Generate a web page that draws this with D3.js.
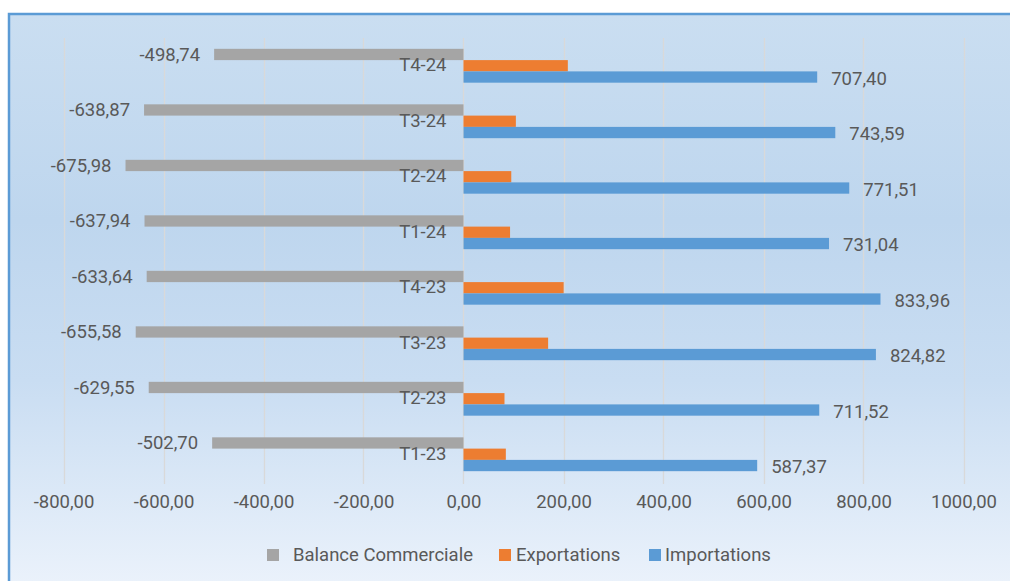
<!DOCTYPE html>
<html>
<head>
<meta charset="utf-8">
<script src="https://cdn.jsdelivr.net/npm/d3@7"></script>
<style>
  body { margin: 0; background: #fff; }
  text { font-family: Roboto, "Liberation Sans", sans-serif; fill: #595959; }
</style>
</head>
<body>
<div id="chart"></div>
<script>
// quarters, bottom to top as in the original
var quarters = ["T1-23", "T2-23", "T3-23", "T4-23", "T1-24", "T2-24", "T3-24", "T4-24"];
var balance = [-502.70, -629.55, -655.58, -633.64, -637.94, -675.98, -638.87, -498.74];
var exportations = [84.67, 81.97, 169.24, 200.32, 93.10, 95.53, 104.72, 208.66];
var importations = [587.37, 711.52, 824.82, 833.96, 731.04, 771.51, 743.59, 707.40];
var seriesNames = ["Balance Commerciale", "Exportations", "Importations"];
var xTicks = [-800, -600, -400, -200, 0, 200, 400, 600, 800, 1000];

var colors = ["#a5a5a5", "#ed7d31", "#5b9bd5"];
var W = 1010, H = 581;
var fs = "18.5px";
var fmt = function (v) { return v.toFixed(2).replace(".", ","); };

var svg = d3.select("#chart").append("svg")
    .attr("width", W)
    .attr("height", H);

// background gradient + frame
var grad = svg.append("defs").append("linearGradient")
    .attr("id", "bg")
    .attr("x1", 0).attr("y1", 0).attr("x2", 0).attr("y2", 1);
grad.append("stop").attr("offset", "0%").attr("stop-color", "#cadef1");
grad.append("stop").attr("offset", "35%").attr("stop-color", "#bed6ee");
grad.append("stop").attr("offset", "62%").attr("stop-color", "#c9ddf2");
grad.append("stop").attr("offset", "100%").attr("stop-color", "#eef4fc");

svg.append("rect")
    .attr("x", 9).attr("y", 14)
    .attr("width", W + 10).attr("height", H + 10)
    .attr("fill", "url(#bg)")
    .attr("stroke", "#5b9bd5")
    .attr("stroke-width", 2.5);

// scales
var x = d3.scaleLinear().domain([-800, 1000]).range([63.5, 963.5]);
var y = d3.scaleBand()
    .domain(quarters.slice().reverse())
    .range([38, 482])
    .paddingInner(0.39)
    .paddingOuter(0.195);
var ySub = d3.scaleBand().domain([0, 1, 2]).range([0, y.bandwidth()]);

// gridlines
svg.append("g")
    .selectAll("line")
    .data(xTicks)
    .enter()
    .append("line")
    .attr("x1", function (d) { return Math.round(x(d)) + 0.5; })
    .attr("x2", function (d) { return Math.round(x(d)) + 0.5; })
    .attr("y1", 38)
    .attr("y2", 484)
    .attr("stroke", "#d9d9d9")
    .attr("stroke-width", 1.3);

// x axis labels
var xAxis = svg.append("g")
    .attr("transform", "translate(0,484)")
    .call(d3.axisBottom(x).tickValues(xTicks).tickFormat(fmt).tickSize(0).tickPadding(11));
xAxis.select(".domain").remove();
xAxis.selectAll("text")
    .attr("font-size", fs)
    .attr("fill", "#595959")
    .attr("font-family", null);

// bars
var series = [balance, exportations, importations];
series.forEach(function (vals, s) {
    svg.append("g")
        .selectAll("rect")
        .data(vals)
        .enter()
        .append("rect")
        .attr("x", function (d) { return x(Math.min(0, d)); })
        .attr("y", function (d, i) { return y(quarters[i]) + ySub(s); })
        .attr("width", function (d) { return Math.abs(x(d) - x(0)); })
        .attr("height", ySub.bandwidth())
        .attr("fill", colors[s]);
});

// data labels (balance and imports only)
svg.append("g")
    .selectAll("text")
    .data(balance)
    .enter()
    .append("text")
    .attr("x", function (d) { return x(d) - 14; })
    .attr("y", function (d, i) { return y(quarters[i]) + ySub(0) + ySub.bandwidth() / 2; })
    .attr("dy", "0.35em")
    .attr("text-anchor", "end")
    .attr("font-size", fs)
    .text(fmt);

svg.append("g")
    .selectAll("text")
    .data(importations)
    .enter()
    .append("text")
    .attr("x", function (d) { return x(d) + 14; })
    .attr("y", function (d, i) { return y(quarters[i]) + ySub(2) + ySub.bandwidth() / 2 + 1; })
    .attr("dy", "0.35em")
    .attr("text-anchor", "start")
    .attr("font-size", fs)
    .text(fmt);

// category labels next to the zero line
svg.append("g")
    .selectAll("text")
    .data(quarters)
    .enter()
    .append("text")
    .attr("x", x(0) - 17)
    .attr("y", function (d) { return y(d) + y.bandwidth() / 2 - 1; })
    .attr("dy", "0.35em")
    .attr("text-anchor", "end")
    .attr("font-size", fs)
    .text(function (d) { return d; });

// legend
var legendX = [267, 499, 649];
var textGap = [26, 17, 16];
var legend = svg.append("g")
    .selectAll("g")
    .data(seriesNames)
    .enter()
    .append("g")
    .attr("transform", function (d, i) { return "translate(" + legendX[i] + ",549)"; });
legend.append("rect")
    .attr("width", 12)
    .attr("height", 12)
    .attr("fill", function (d, i) { return colors[i]; });
legend.append("text")
    .attr("x", function (d, i) { return textGap[i]; })
    .attr("y", 6)
    .attr("dy", "0.35em")
    .attr("font-size", fs)
    .text(function (d) { return d; });
</script>
</body>
</html>
